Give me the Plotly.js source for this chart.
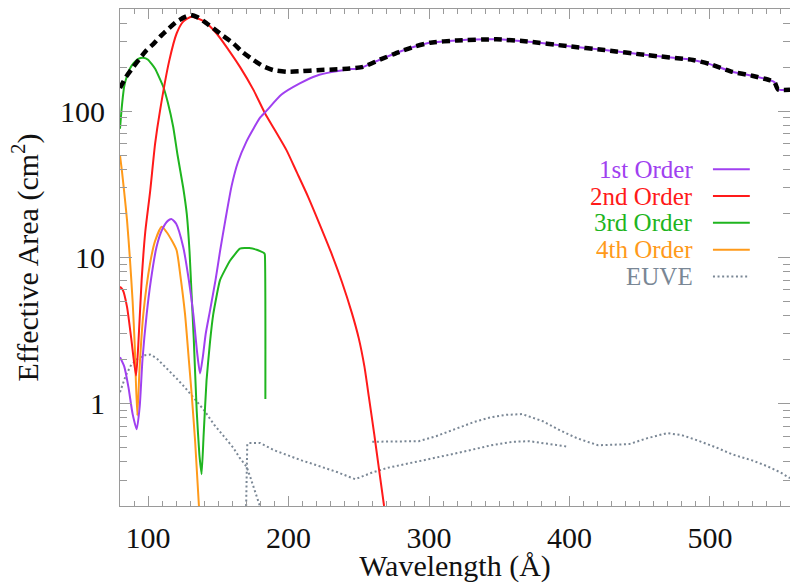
<!DOCTYPE html>
<html><head><meta charset="utf-8">
<script src="https://cdn.plot.ly/plotly-3.0.1.min.js"></script>
<style>body{margin:0;padding:0;background:#fff}#chart{width:790px;height:583px}</style>
</head><body><div id="chart"></div>
<script>
// ---- data (wavelength in Angstrom, effective area in cm^2) ----
const order1Wave = [80,83,86,89,91.9,94,96,99,102,106,110,114,116.8,120,125,129,132.2,135,137,139,141,144,148,151.2,155,159.5,164,170,175,180,184.4,195,208,220,231.6,242,250.8,265,279,290,300.6,320,348,370,398,425,455,488,500,516,530,542.6,546,548.4,557];
const order1Area = [2.08,1.8,1.3,0.85,0.67,0.95,2.0,4.1,7,11.8,15.5,17.8,18.3,17,11.8,7,4.1,2.2,1.61,2.1,3.0,4.3,7,11,18,31,45,62,76,91,101,130,155,175,186,193,197,225,255,277,294,305,310,300,279,262,242,224,210,186,175,163,158,141,140];

const order2Wave = [80,82,85,88,91.4,93,95.4,98,101.4,105,108.5,115,120.3,125,131,140,148.8,157,165.4,175,183.2,190,198.6,206,214,222,230,238,245,250,254,257.2,261,264,268];
const order2Area = [6.3,6.0,4.6,2.8,1.56,2.5,7,15,28,60,101,220,340,410,443,410,340,265,201,140,97,75,54,38,25.9,17,11,6.8,4.2,2.8,1.8,1.11,0.62,0.38,0.2];

const order3Wave = [80,81,82,83,84.8,87,89.5,93,96.6,100,105,110.8,114,117.9,121,125,127.5,129.5,131,132.5,134.6,136.5,138.1,139.5,141.6,144,146.4,151.2,158.3,165.4,172,177.3,182.7,183.1,183.5];
const order3Area = [76,100,125,148,172,195,212,228,232,225,195,147,115,78,50,30,20,11,5.5,2.8,0.9,0.45,0.33,0.6,1.44,2.6,4.1,7,9.5,11.5,11.6,11.3,10.7,10.5,1.08];

const order4Wave = [80,81.5,83,85,87,89,90.5,92.3,94,96.6,101.4,105,109.7,113,117,120.3,123,126.3,129,131,133.5,136.2];
const order4Area = [50,38,28,18,10,5,2.5,0.83,1.8,4.1,9.1,13,16.2,15,13,11.2,7.5,4.1,2.0,1.17,0.55,0.2];

const euve1Wave = [80,84,88,93,98,101.4,106,112,120,126,132.2,140,147,154,160.7,165,170.2,173,176,179.6];
const euve1Area = [1.2,1.55,1.85,2.05,2.15,2.17,2.05,1.8,1.5,1.3,1.1,0.9,0.72,0.6,0.5,0.43,0.37,0.31,0.25,0.2];

const euve2Wave = [169.8,170.6,172,179.6,190,200,209.3,220,235,247.4,260,270.7,285,300.1,320,344.3,360,371.3,385,398.3];
const euve2Area = [0.2,0.53,0.54,0.54,0.48,0.44,0.41,0.38,0.34,0.305,0.34,0.365,0.39,0.42,0.46,0.52,0.55,0.555,0.53,0.51];

const euve3Wave = [259.6,275,292.8,305,319.7,332,344.3,355,366.4,381,393,405.6,420.4,442.5,455,469.4,480,491.6,505,516.1,530,540.6,550,557];
const euve3Area = [0.55,0.55,0.555,0.6,0.68,0.75,0.81,0.84,0.85,0.76,0.66,0.58,0.52,0.53,0.58,0.63,0.61,0.56,0.5,0.45,0.41,0.375,0.34,0.31];

const totalWave = [80,84,89.5,95,99,104,108.5,115,120.3,126,130.3,135,140,146.4,153,160.7,167,174.9,182,189.1,199.3,210,220,232,243.7,253,265,279,290,300.6,320,348,370,398,425,455,488,500,516,530,542.6,546,548.4,557];
const totalArea = [144,170,201,235,262,290,323,370,409,440,455,440,410,369,330,291,255,224,203,191,186,188,191,193,196,201,225,255,277,294,305,310,300,279,262,242,224,210,186,175,163,158,141,140];

const xTickVals = [100,200,300,400,500];
const yTickVals = [1,10,100];
const yTickText = ['1','10','100'];
const yMinorVals = [0.2,0.3,0.4,0.5,0.6,0.7,0.8,0.9,2,3,4,5,6,7,8,9,20,30,40,50,60,70,80,90,200,300,400,500];

const legendNames = ['1st Order','2nd Order','3rd Order','4th Order','EUVE'];
const legendColors = ['#A040F0','#FF1A1A','#1FB51F','#FF9A1A','#7A8795'];
const legendDash = ['solid','solid','solid','solid','dot'];

// ---- traces ----
const euveColor = '#7A8795';
const euveDash = '2px,2.6px';
const traces = [
  {x: euve1Wave, y: euve1Area, mode:'lines', line:{color:euveColor, width:2, dash:euveDash}},
  {x: euve2Wave, y: euve2Area, mode:'lines', line:{color:euveColor, width:2, dash:euveDash}},
  {x: euve3Wave, y: euve3Area, mode:'lines', line:{color:euveColor, width:2, dash:euveDash}},
  {x: order4Wave, y: order4Area, mode:'lines', line:{color:legendColors[3], width:2, shape:'spline', smoothing:0.6}},
  {x: order3Wave, y: order3Area, mode:'lines', line:{color:legendColors[2], width:2, shape:'spline', smoothing:0.4}},
  {x: order2Wave, y: order2Area, mode:'lines', line:{color:legendColors[1], width:2, shape:'spline', smoothing:0.6}},
  {x: order1Wave, y: order1Area, mode:'lines', line:{color:legendColors[0], width:2, shape:'spline', smoothing:0.6}},
  {x: totalWave, y: totalArea, mode:'lines', line:{color:'#000', width:4.5, dash:'8px,5px', shape:'spline', smoothing:0.5}}
];

const fontFam = 'Liberation Serif';

// ---- legend built from annotations + short line shapes ----
const annotations = [];
const shapes = [];
const legY0 = 0.6775, legDy = 0.0539;
legendNames.forEach((n,i)=>{
  const yy = legY0 - i*legDy;
  annotations.push({xref:'paper', yref:'paper', x:0.858, y:yy, xanchor:'right', yanchor:'middle',
    text:n, showarrow:false, font:{family:fontFam, size:25, color:legendColors[i]}});
  shapes.push({type:'line', xref:'paper', yref:'paper', x0:0.885, x1:0.940, y0:yy, y1:yy,
    line:{color:legendColors[i], width: 2, dash: legendDash[i]==='dot' ? '2px,2.6px' : 'solid'}});
});

const axisColor = '#9a9a9a';
const layout = {
  width:790, height:583,
  margin:{l:120, r:0, t:9, b:77},
  paper_bgcolor:'#fff', plot_bgcolor:'#fff',
  showlegend:false,
  font:{family:fontFam, color:'#111'},
  xaxis:{
    range:[80,557], showgrid:false, zeroline:false,
    showline:true, linecolor:axisColor, linewidth:1, mirror:'ticks',
    ticks:'inside', ticklen:10, tickcolor:axisColor, tickwidth:1,
    tickvals:xTickVals, ticktext:xTickVals.map(String),
    tickfont:{family:fontFam, size:30, color:'#111'},
    ticklabelstandoff:5,
    minor:{ticks:'inside', ticklen:5, dtick:10, tick0:0, tickcolor:axisColor, tickwidth:1, showgrid:false},
    title:{text:'Wavelength (Å)', font:{family:fontFam, size:30, color:'#111'}, standoff:6}
  },
  yaxis:{
    type:'log', range:[Math.log10(0.2), Math.log10(500)], showgrid:false, zeroline:false,
    showline:true, linecolor:axisColor, linewidth:1, mirror:'ticks',
    ticks:'inside', ticklen:12, tickcolor:axisColor, tickwidth:1,
    tickvals:yTickVals, ticktext:yTickText,
    tickfont:{family:fontFam, size:30, color:'#111'},
    ticklabelstandoff:8,
    minor:{ticks:'inside', ticklen:7, tickvals:yMinorVals, tickcolor:axisColor, tickwidth:1, showgrid:false},
    title:{text:'Effective Area (cm<sup>2</sup>)', font:{family:fontFam, size:30, color:'#111'}, standoff:12}
  },
  annotations:annotations,
  shapes:shapes
};

Plotly.newPlot('chart', traces, layout, {staticPlot:true, displayModeBar:false});
</script>
</body></html>
